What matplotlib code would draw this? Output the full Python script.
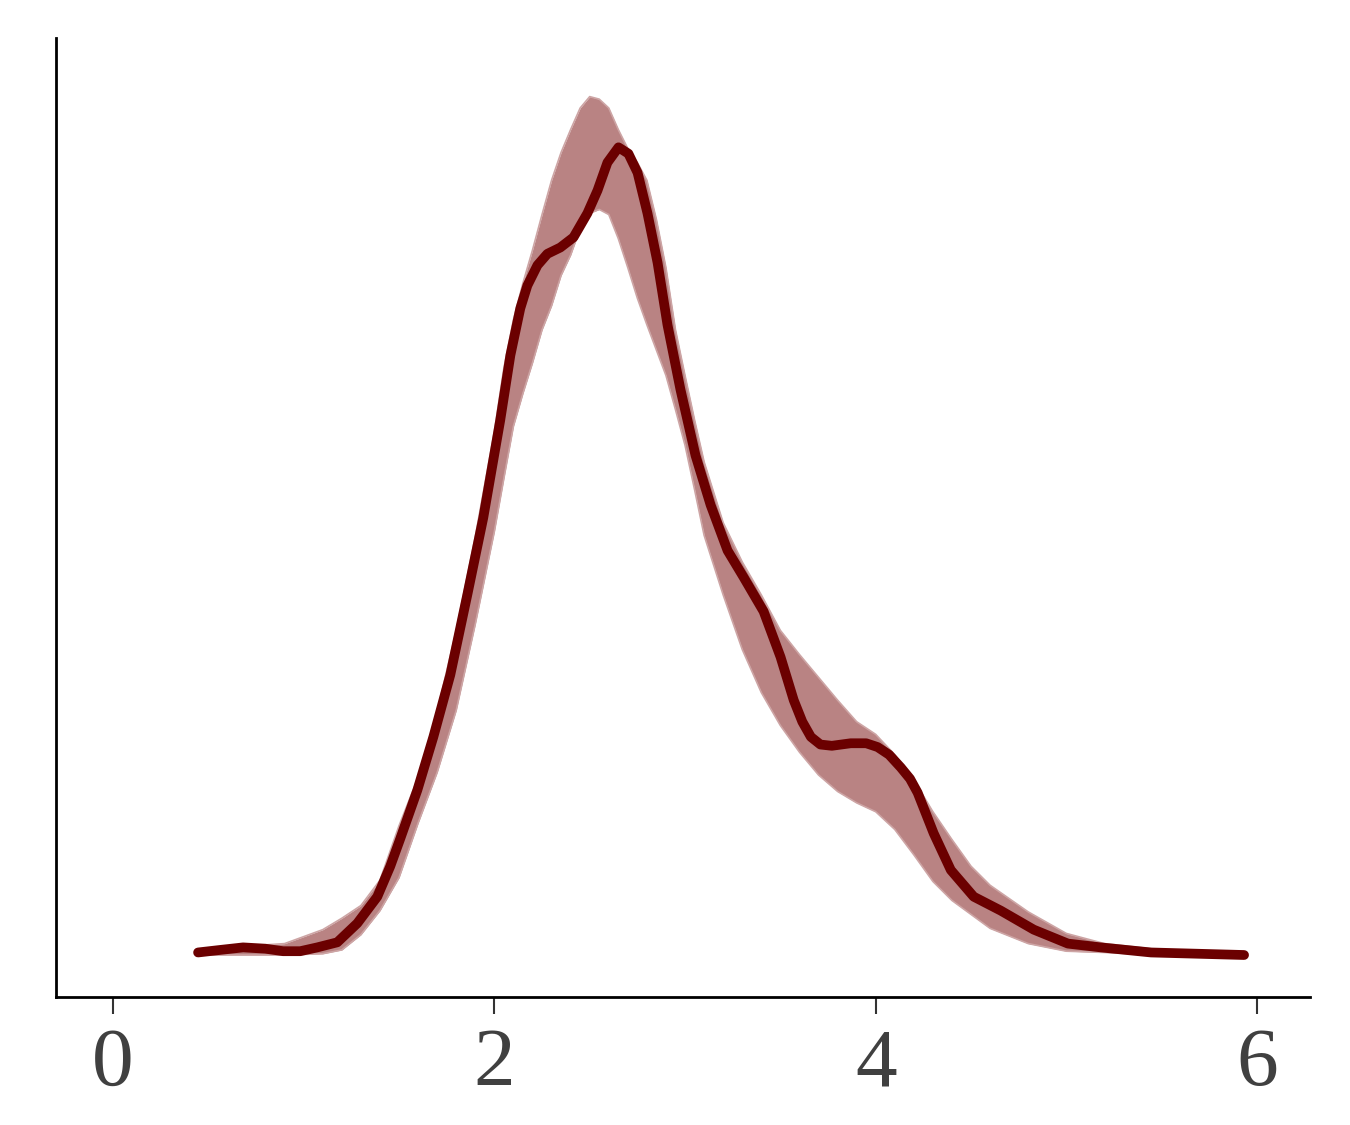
import numpy as np
import matplotlib.pyplot as plt

# observed density (dark line)
obs_x = [0.446, 0.562, 0.682, 0.798, 0.892, 0.982, 1.071, 1.176, 1.281, 1.386,
         1.454, 1.507, 1.596, 1.680, 1.769, 1.858, 1.942, 2.031, 2.084, 2.136,
         2.173, 2.226, 2.278, 2.346, 2.415, 2.488, 2.541, 2.593, 2.651, 2.703,
         2.751, 2.803, 2.856, 2.908, 2.976, 3.055, 3.134, 3.223, 3.307, 3.412,
         3.501, 3.570, 3.615, 3.660, 3.710, 3.770, 3.869, 3.950, 4.010, 4.070,
         4.131, 4.180, 4.220, 4.304, 4.394, 4.514, 4.656, 4.829, 5.008, 5.181,
         5.444, 5.932]
obs_y = [0.002, 0.004, 0.006, 0.005, 0.003, 0.003, 0.006, 0.010, 0.025, 0.046,
         0.070, 0.092, 0.130, 0.172, 0.221, 0.284, 0.345, 0.422, 0.473, 0.510,
         0.528, 0.544, 0.553, 0.558, 0.566, 0.585, 0.603, 0.625, 0.637, 0.632,
         0.617, 0.585, 0.546, 0.497, 0.446, 0.394, 0.355, 0.319, 0.298, 0.271,
         0.235, 0.201, 0.184, 0.172, 0.166, 0.165, 0.167, 0.167, 0.164, 0.158,
         0.148, 0.139, 0.128, 0.096, 0.067, 0.046, 0.035, 0.020, 0.009, 0.006,
         0.002, 0.000]

# envelope of the replicated densities (light band)
rep_x = [0.45, 0.7, 0.9, 1.1, 1.2, 1.3, 1.4, 1.5, 1.6, 1.7, 1.8, 1.9, 2.0, 2.05,
         2.1, 2.15, 2.2, 2.25, 2.3, 2.35, 2.4, 2.45, 2.5, 2.55, 2.6, 2.65, 2.7,
         2.75, 2.8, 2.85, 2.9, 2.95, 3.0, 3.05, 3.1, 3.2, 3.3, 3.4, 3.5, 3.6,
         3.7, 3.8, 3.9, 4.0, 4.1, 4.2, 4.3, 4.4, 4.5, 4.6, 4.8, 5.0, 5.2, 5.5,
         5.93]
rep_upper = [0.004, 0.007, 0.009, 0.020, 0.029, 0.039, 0.059, 0.102, 0.140, 0.192,
             0.256, 0.330, 0.413, 0.463, 0.501, 0.530, 0.556, 0.584, 0.611, 0.633,
             0.651, 0.668, 0.677, 0.675, 0.668, 0.651, 0.636, 0.625, 0.611, 0.580,
             0.542, 0.493, 0.457, 0.422, 0.389, 0.341, 0.310, 0.284, 0.256, 0.237,
             0.219, 0.201, 0.184, 0.174, 0.158, 0.138, 0.113, 0.091, 0.070, 0.055,
             0.034, 0.017, 0.009, 0.004, 0.001]
rep_lower = [0.000, 0.000, 0.000, 0.001, 0.004, 0.016, 0.035, 0.061, 0.104, 0.144,
             0.193, 0.261, 0.334, 0.376, 0.417, 0.443, 0.467, 0.493, 0.512, 0.536,
             0.552, 0.573, 0.585, 0.588, 0.584, 0.565, 0.542, 0.518, 0.497, 0.477,
             0.457, 0.430, 0.402, 0.367, 0.331, 0.284, 0.241, 0.207, 0.181, 0.160,
             0.142, 0.129, 0.120, 0.113, 0.099, 0.079, 0.058, 0.043, 0.032, 0.021,
             0.009, 0.003, 0.002, 0.000, 0.000]

x_ticks = [0, 2, 4, 6]

plt.rcParams['font.family'] = ['Liberation Serif', 'DejaVu Serif']

fig = plt.figure(figsize=(13.5, 11.25), dpi=100)
ax = fig.add_axes([0.0415, 0.1138, 0.9289, 0.8524])

ax.fill_between(rep_x, rep_lower, rep_upper, color='#B98383', linewidth=0)
ax.plot(rep_x, rep_upper, color='#CDA5A5', lw=1.2, solid_joinstyle='round')
ax.plot(rep_x, rep_lower, color='#CDA5A5', lw=1.2, solid_joinstyle='round')
ax.plot(obs_x, obs_y, color='#6B0000', lw=7, solid_capstyle='round',
        solid_joinstyle='round')

ax.set_xlim(-0.299, 6.278)
ax.set_ylim(-0.0331, 0.7232)
ax.set_xticks(x_ticks)
ax.set_xticklabels([str(t) for t in x_ticks])
ax.set_yticks([])

for s in ['top', 'right']:
    ax.spines[s].set_visible(False)
for s in ['left', 'bottom']:
    ax.spines[s].set_linewidth(2)
    ax.spines[s].set_color('black')

ax.tick_params(axis='x', length=12, width=1.5, color='#333333', pad=10,
               labelsize=60, labelcolor='#404040')

plt.savefig('out.png', dpi=100)
